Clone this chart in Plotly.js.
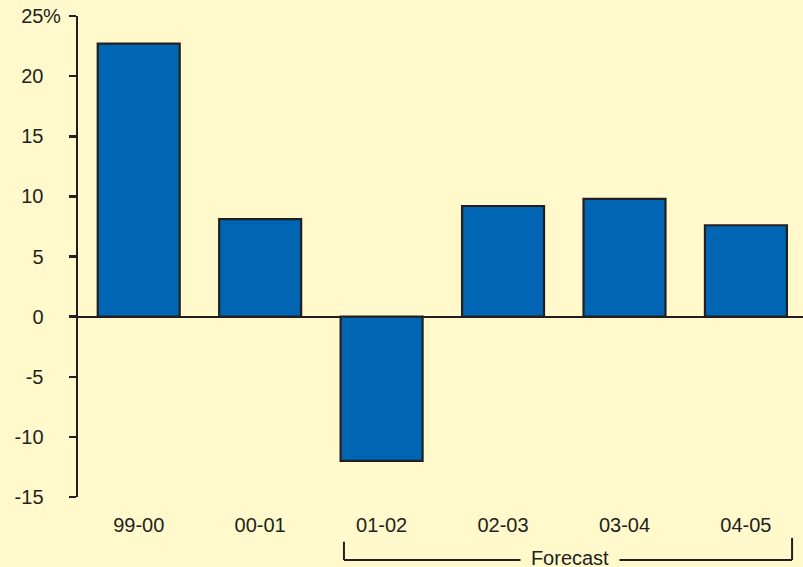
<!DOCTYPE html>
<html>
<head>
<meta charset="utf-8">
<script src="https://cdn.plot.ly/plotly-3.0.1.min.js"></script>
<style>
  html, body { margin: 0; padding: 0; background: #FFF9CC; }
  #chart { width: 803px; height: 567px; }
</style>
</head>
<body>
<div id="chart"></div>
<script>
// Year-over-year change, percent
const periods = ['99-00', '00-01', '01-02', '02-03', '03-04', '04-05'];
const changePct = [22.7, 8.1, -12.0, 9.2, 9.8, 7.6];
const yTickVals = [-15, -10, -5, 0, 5, 10, 15, 20, 25];
const yTickText = ['-15', '-10', '-5', '0', '5', '10', '15', '20', '25'];
const forecastLabel = 'Forecast';
const forecastFrom = 2;   // first forecast period index (01-02)
const forecastTo = 5;     // last forecast period index (04-05)

const bg = '#FFF9CC';
const ink = '#231F20';
const font = { family: 'Liberation Sans, Arial, sans-serif', size: 20, color: ink };

const trace = {
  type: 'bar',
  x: periods,
  y: changePct,
  width: 0.675,
  marker: { color: '#0066B3', line: { color: ink, width: 2.2 } },
  hoverinfo: 'x+y'
};

// bracket under the forecast periods
const yBase = -0.131, yTopL = -0.093, yTopR = -0.085;
const xL = forecastFrom - 0.31, xR = forecastTo + 0.38;
const shapes = [
  { type: 'line', xref: 'x', yref: 'paper', x0: xL, x1: xL, y0: yTopL, y1: yBase, line: { color: ink, width: 2 } },
  { type: 'line', xref: 'x', yref: 'paper', x0: xL, x1: xR, y0: yBase, y1: yBase, line: { color: ink, width: 2 } },
  { type: 'line', xref: 'x', yref: 'paper', x0: xR, x1: xR, y0: yTopR, y1: yBase, line: { color: ink, width: 2 } }
];

const annotations = [
  {
    xref: 'x', yref: 'paper', x: (xL + xR) / 2 + 0.02, y: yBase + 0.004,
    text: forecastLabel, showarrow: false, font: font,
    bgcolor: bg, borderpad: 0, xanchor: 'center', yanchor: 'middle',
    width: 98
  },
  {
    xref: 'paper', yref: 'y', x: -0.022, y: yTickVals[yTickVals.length - 1],
    text: '%', showarrow: false, font: font, xanchor: 'right', yanchor: 'middle',
    borderpad: 0
  }
];

const layout = {
  width: 803,
  height: 567,
  paper_bgcolor: bg,
  plot_bgcolor: bg,
  font: font,
  showlegend: false,
  margin: { l: 78, r: 0, t: 16, b: 70 },
  xaxis: {
    type: 'category',
    range: [-0.5, 5.47],
    showline: false,
    showgrid: false,
    zeroline: false,
    ticks: '',
    ticklabelstandoff: 14,
    tickfont: font,
    fixedrange: true
  },
  yaxis: {
    range: [-15, 25],
    tickvals: yTickVals,
    ticktext: yTickText,
    showline: true,
    linecolor: ink,
    linewidth: 2.5,
    ticks: 'outside',
    ticklen: 7,
    tickwidth: 2.5,
    tickcolor: ink,
    ticklabelstandoff: 21,
    showgrid: false,
    zeroline: true,
    zerolinecolor: ink,
    zerolinewidth: 2,
    tickfont: font,
    fixedrange: true
  },
  shapes: shapes,
  annotations: annotations
};

Plotly.newPlot('chart', [trace], layout, { displayModeBar: false, staticPlot: true });
</script>
</body>
</html>
